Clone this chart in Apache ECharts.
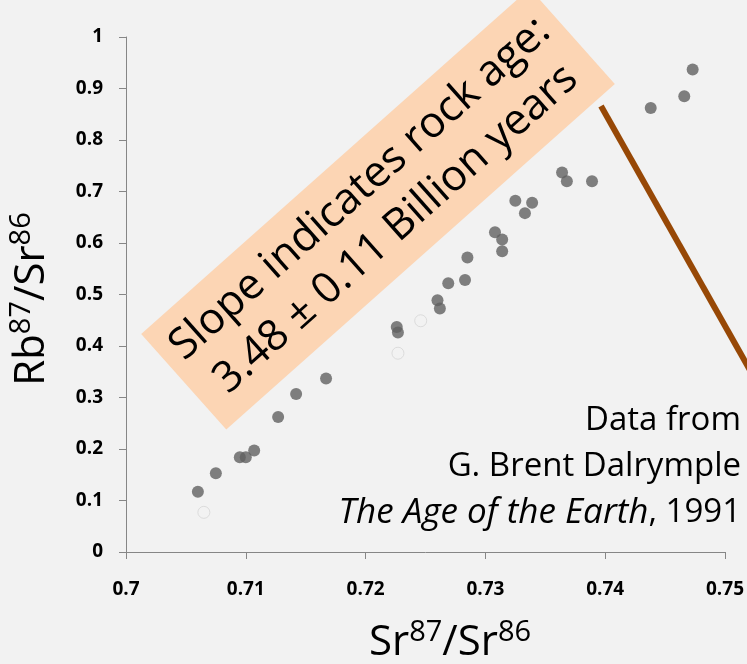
<!DOCTYPE html>
<html>
<head>
<meta charset="utf-8">
<title>Rb-Sr isochron</title>
<script src="https://cdn.jsdelivr.net/npm/echarts@6/dist/echarts.min.js"></script>
<style>
  html, body { margin: 0; padding: 0; background: #f2f2f2; }
  #chart { width: 747px; height: 664px; }
</style>
</head>
<body>
<div id="chart"></div>
<script>
// Sr87/Sr86 (x) and Rb87/Sr86 (y)
var srFilled = [0.7060, 0.7075, 0.7095, 0.7100, 0.7107, 0.7127, 0.7142, 0.7167,
                0.7226, 0.7227, 0.7260, 0.7262, 0.7269, 0.7283, 0.7285, 0.7308,
                0.7314, 0.7314, 0.7325, 0.7333, 0.7339, 0.7364, 0.7368, 0.7389,
                0.7438, 0.7466, 0.7473];
var rbFilled = [0.117, 0.153, 0.184, 0.184, 0.197, 0.262, 0.307, 0.337,
                0.437, 0.426, 0.489, 0.473, 0.522, 0.528, 0.572, 0.621,
                0.607, 0.584, 0.682, 0.658, 0.678, 0.737, 0.720, 0.720,
                0.862, 0.885, 0.937];
// rejected samples (open circles)
var srOpen = [0.7065, 0.7227, 0.7246];
var rbOpen = [0.077, 0.386, 0.449];

var xTicks = [0.7, 0.71, 0.72, 0.73, 0.74, 0.75];
var yTicks = [0, 0.1, 0.2, 0.3, 0.4, 0.5, 0.6, 0.7, 0.8, 0.9, 1];

var boxText = ['Slope indicates rock age:', '3.48 ± 0.11 Billion years'];
var sourceText = ['Data from', 'G. Brent Dalrymple', 'The Age of the Earth', ', 1991'];

function pairs(xs, ys) {
  return xs.map(function (x, i) { return [x, ys[i]]; });
}

var font = '"Open Sans", "Noto Sans", sans-serif';
var chart = echarts.init(document.getElementById('chart'));

var option = {
  backgroundColor: '#f2f2f2',
  animation: false,
  grid: { left: 126, right: 20, top: 37, bottom: 112 },
  xAxis: {
    type: 'value',
    min: xTicks[0],
    max: xTicks[xTicks.length - 1],
    interval: 0.01,
    axisLine: { lineStyle: { color: '#868686', width: 1 } },
    axisTick: { show: true, length: 7, lineStyle: { color: '#868686' } },
    splitLine: { show: false },
    axisLabel: { margin: 28, color: '#000', fontWeight: 'bold', fontSize: 19, fontFamily: font }
  },
  yAxis: {
    type: 'value',
    min: yTicks[0],
    max: yTicks[yTicks.length - 1],
    interval: 0.1,
    axisLine: { show: true, lineStyle: { color: '#868686', width: 1 } },
    axisTick: { show: true, length: 7, lineStyle: { color: '#868686' } },
    splitLine: { show: false },
    axisLabel: { margin: 23, color: '#000', fontWeight: 'bold', fontSize: 19, fontFamily: font }
  },
  series: [
    {
      type: 'scatter',
      symbol: 'circle',
      symbolSize: 12,
      itemStyle: { color: '#606060' },
      data: pairs(srFilled, rbFilled)
    },
    {
      type: 'scatter',
      symbol: 'circle',
      symbolSize: 12,
      itemStyle: { color: 'rgba(0,0,0,0)', borderColor: '#d6d6d6', borderWidth: 1 },
      data: pairs(srOpen, rbOpen)
    }
  ],
  graphic: [
    {
      type: 'line',
      shape: { x1: 601, y1: 106, x2: 760, y2: 388 },
      style: { stroke: '#974806', lineWidth: 6 },
      z: 10
    },
    {
      type: 'group',
      x: 378,
      y: 209,
      rotation: 0.727,
      z: 20,
      children: [
        {
          type: 'rect',
          shape: { x: -260, y: -64, width: 520, height: 128 },
          style: { fill: '#fcd5b4' }
        },
        {
          type: 'text',
          x: 0,
          y: 0,
          style: {
            text: boxText.join('\n'),
            fill: '#000',
            font: '43px ' + font,
            align: 'center',
            verticalAlign: 'middle',
            lineHeight: 54
          }
        }
      ]
    },
    {
      type: 'text',
      x: 741,
      y: 467,
      z: 20,
      style: {
        text: '{n|' + sourceText[0] + '}\n{n|' + sourceText[1] + '}\n{i|' + sourceText[2] + '}{n|' + sourceText[3] + '}',
        align: 'right',
        verticalAlign: 'middle',
        fill: '#000',
        rich: {
          n: { fontSize: 33, fontFamily: font, lineHeight: 46 },
          i: { fontSize: 35, fontFamily: font, fontStyle: 'italic', lineHeight: 46 }
        }
      }
    },
    {
      type: 'text',
      x: 450,
      y: 643,
      style: {
        text: '{b|Sr}{s|87}{b|/Sr}{s|86}',
        align: 'center',
        verticalAlign: 'middle',
        fill: '#000',
        rich: {
          b: { fontSize: 42, fontFamily: font, lineHeight: 50 },
          s: { fontSize: 29, fontFamily: font, lineHeight: 50, verticalAlign: 'top', padding: [0, 0, 19, 0] }
        }
      }
    },
    {
      type: 'text',
      x: 32,
      y: 299,
      rotation: Math.PI / 2,
      style: {
        text: '{b|Rb}{s|87}{b|/Sr}{s|86}',
        align: 'center',
        verticalAlign: 'middle',
        fill: '#000',
        rich: {
          b: { fontSize: 42, fontFamily: font, lineHeight: 50 },
          s: { fontSize: 29, fontFamily: font, lineHeight: 50, verticalAlign: 'top', padding: [0, 0, 19, 0] }
        }
      }
    }
  ]
};

chart.setOption(option);
</script>
</body>
</html>
